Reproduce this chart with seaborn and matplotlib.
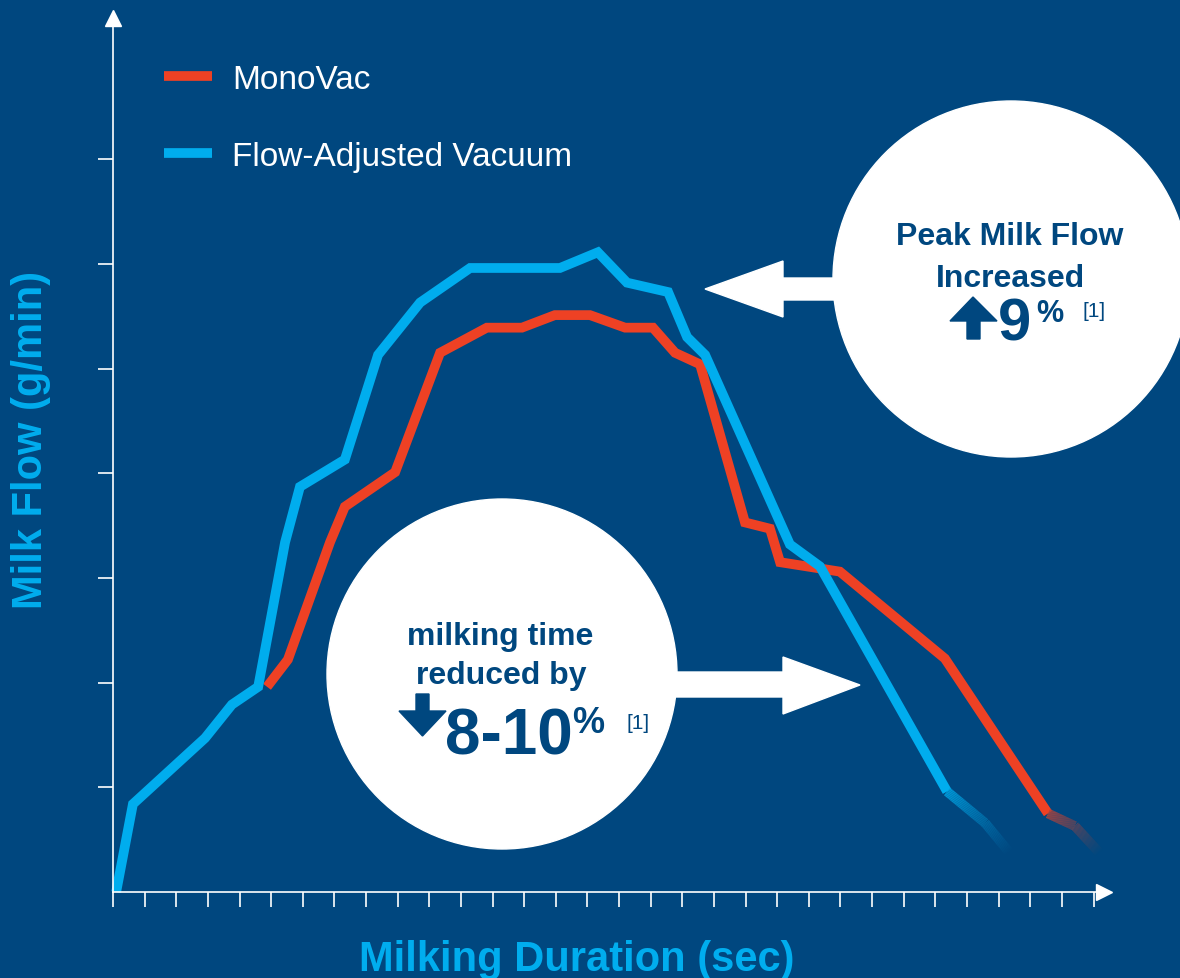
import numpy as np
import pandas as pd
import matplotlib
matplotlib.use("Agg")
import matplotlib.pyplot as plt
import matplotlib.patches as mpatches
from matplotlib.collections import LineCollection
import seaborn as sns

# --- data (x in tick units, y in tick units) ---
mono_x = [4.87, 5.53, 6.86, 7.33, 8.92, 10.34, 11.82, 12.93, 13.97, 15.08, 16.19,
          17.07, 17.77, 18.56, 19.98, 20.77, 21.09, 22.98, 26.30, 29.56, 30.41, 31.20]
mono_y = [1.96, 2.22, 3.34, 3.68, 4.01, 5.15, 5.39, 5.39, 5.51, 5.51, 5.39,
          5.39, 5.15, 5.04, 3.53, 3.47, 3.15, 3.06, 2.23, 0.75, 0.63, 0.37]
fav_x = [0.10, 0.63, 2.91, 3.76, 4.59, 5.44, 5.91, 7.33, 8.38, 9.71, 11.29,
         14.13, 15.33, 16.25, 17.55, 18.15, 18.72, 21.40, 22.35, 26.37, 27.57, 28.36]
fav_y = [0.00, 0.84, 1.47, 1.79, 1.96, 3.34, 3.87, 4.13, 5.13, 5.63, 5.96,
         5.96, 6.11, 5.82, 5.73, 5.30, 5.13, 3.32, 3.11, 0.96, 0.66, 0.37]
series = ["MonoVac", "Flow-Adjusted Vacuum"]
fade_from = {"MonoVac": 19, "Flow-Adjusted Vacuum": 19}
x_ticks = list(range(0, 32))
y_ticks = list(range(1, 8))

BG = "#00477F"
RED = "#EE4124"
CYAN = "#00ADEE"
palette = {"MonoVac": RED, "Flow-Adjusted Vacuum": CYAN}

W, H = 1180, 979
PX_X, PX_Y = 31.63, 104.7   # pixels per unit
X0, Y0 = 113, 893            # origin in pixels

sns.set_style("white")
plt.rcParams["font.family"] = ["Liberation Sans", "DejaVu Sans"]

fig = plt.figure(figsize=(W / 100, H / 100), dpi=100, facecolor=BG)
ax = fig.add_axes([0, 0, 1, 1])
ax.set_facecolor(BG)
ax.set_xlim(-X0 / PX_X, (W - X0) / PX_X)
ax.set_ylim(-(H - Y0) / PX_Y, Y0 / PX_Y)

frames = []
for name, xs, ys in [("MonoVac", mono_x, mono_y), ("Flow-Adjusted Vacuum", fav_x, fav_y)]:
    k = fade_from[name]
    frames.append(pd.DataFrame({"duration": xs[:k + 1], "flow": ys[:k + 1], "series": name}))
df = pd.concat(frames, ignore_index=True)

sns.lineplot(data=df, x="duration", y="flow", hue="series", hue_order=series,
             palette=palette, estimator=None, sort=False, linewidth=7,
             solid_joinstyle="miter", solid_capstyle="butt", ax=ax, legend=True)


# fading tails (colour blended into the background)
def fade_tail(xs, ys, color, start_t=0.0):
    px = np.array(xs) * PX_X
    py = np.array(ys) * PX_Y
    seg = np.hypot(np.diff(px), np.diff(py))
    s = np.concatenate([[0], np.cumsum(seg)])
    ss = np.linspace(0, s[-1], 80)
    fx = np.interp(ss, s, xs)
    fy = np.interp(ss, s, ys)
    pts = np.column_stack([fx, fy]).reshape(-1, 1, 2)
    segs = np.concatenate([pts[:-1], pts[1:]], axis=1)
    c1 = np.array(matplotlib.colors.to_rgb(color))
    c0 = np.array(matplotlib.colors.to_rgb(BG))
    t = np.linspace(start_t, 1, len(segs)) ** 0.8
    cols = [tuple(c1 * (1 - v) + c0 * v) for v in t]
    lc = LineCollection(segs, colors=cols, linewidths=7, capstyle="butt", joinstyle="round")
    ax.add_collection(lc)


fade_tail(mono_x[fade_from["MonoVac"]:], mono_y[fade_from["MonoVac"]:], RED, 0.2)
fade_tail(fav_x[fade_from["Flow-Adjusted Vacuum"]:], fav_y[fade_from["Flow-Adjusted Vacuum"]:], CYAN, 0.1)

# axes with arrows
for side in ["top", "right"]:
    ax.spines[side].set_visible(False)
for side in ["left", "bottom"]:
    ax.spines[side].set_position(("data", 0))
    ax.spines[side].set_color("white")
    ax.spines[side].set_linewidth(1.2)
ax.spines["bottom"].set_bounds(0, 31.2)
ax.spines["left"].set_bounds(0, 8.3)
ax.plot(31.33, 0, marker=">", ms=11, color="white", clip_on=False)
ax.plot(0, 8.35, marker="^", ms=11, color="white", clip_on=False)
ax.set_xticks(x_ticks)
ax.set_yticks(y_ticks)
ax.set_xticklabels([])
ax.set_yticklabels([])
ax.tick_params(axis="both", direction="out", length=11, width=1.2, color="white",
               bottom=True, left=True)
ax.set_xlabel("")
ax.set_ylabel("")

handles, labels = ax.get_legend_handles_labels()
ax.legend(handles, labels, loc="upper left", bbox_to_anchor=(164 / W, 1 - 65 / H),
          bbox_transform=fig.transFigure, frameon=False, fontsize=24,
          handlelength=1.45, handletextpad=0.6, labelspacing=1.37,
          borderpad=0, borderaxespad=0, labelcolor="white")

# overlay in pixel coordinates for the call-outs
ov = fig.add_axes([0, 0, 1, 1])
ov.set_xlim(0, W)
ov.set_ylim(H, 0)
ov.axis("off")
ov.patch.set_alpha(0)

ov.add_patch(mpatches.Circle((1011, 280), 178, color="white"))
ov.add_patch(mpatches.Circle((502, 675), 175, color="white"))
ov.add_patch(mpatches.Polygon([(705, 290), (783, 262), (783, 279), (845, 279),
                               (845, 301), (783, 301), (783, 318)], color="white"))
ov.add_patch(mpatches.Polygon([(860, 686), (783, 658), (783, 673), (665, 673),
                               (665, 698), (783, 698), (783, 715)], color="white"))
# small up / down arrows
ov.add_patch(mpatches.Polygon([(973, 298), (997, 322), (980, 322), (980, 340),
                               (967, 340), (967, 322), (950, 322)], color=BG))
ov.add_patch(mpatches.Polygon([(422.5, 737), (446, 712), (429, 712), (429, 695),
                               (416, 695), (416, 712), (399, 712)], color=BG))

txt = dict(color=BG, fontweight="bold")
ov.text(1010, 245, "Peak Milk Flow", ha="center", va="baseline", fontsize=23, **txt)
ov.text(1010, 287, "Increased", ha="center", va="baseline", fontsize=23, **txt)
ov.text(998, 341, "9", ha="left", va="baseline", fontsize=43, **txt)
ov.text(1036, 322, "%", ha="left", va="baseline", fontsize=22, **txt)
ov.text(1082, 317, "[1]", ha="left", va="baseline", fontsize=15, color=BG)

ov.text(500, 645, "milking time", ha="center", va="baseline", fontsize=23, **txt)
ov.text(501, 684, "reduced by", ha="center", va="baseline", fontsize=23, **txt)
ov.text(445, 755, "8-10", ha="left", va="baseline", fontsize=46, **txt)
ov.text(572, 733, "%", ha="left", va="baseline", fontsize=26, **txt)
ov.text(626, 729, "[1]", ha="left", va="baseline", fontsize=15, color=BG)

ov.text(577, 971, "Milking Duration (sec)", ha="center", va="baseline",
        fontsize=30, color=CYAN, fontweight="bold")
ov.text(31, 440, "Milk Flow (g/min)", ha="center", va="center", rotation=90,
        fontsize=30, color=CYAN, fontweight="bold")

fig.savefig("out.png", dpi=100, facecolor=BG)
